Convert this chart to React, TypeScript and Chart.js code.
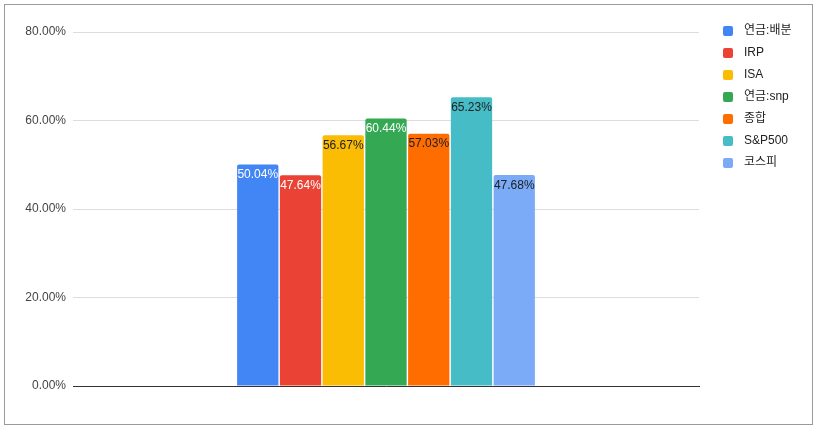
import React, { useEffect, useRef } from "react";
import { Chart, registerables } from "chart.js";

Chart.register(...registerables);

const categories = [""];
const seriesNames = ["연금:배분", "IRP", "ISA", "연금:snp", "종합", "S&P500", "코스피"];
const seriesValues = [50.04, 47.64, 56.67, 60.44, 57.03, 65.23, 47.68];
const yTickValues = [0, 20, 40, 60, 80];

const seriesColors = ["#4285F4", "#EA4335", "#FBBC04", "#34A853", "#FF6D01", "#46BDC6", "#7BAAF7"];
const labelColors = ["#ffffff", "#ffffff", "#202124", "#ffffff", "#202124", "#202124", "#202124"];

const FONT = "'Liberation Sans', Arial, 'Noto Sans CJK KR', sans-serif";

const valueLabelPlugin = {
  id: "valueLabels",
  afterDatasetsDraw(chart: any) {
    const ctx = chart.ctx;
    ctx.save();
    ctx.font = `12px ${FONT}`;
    ctx.textAlign = "center";
    ctx.textBaseline = "middle";
    chart.data.datasets.forEach((ds: any, i: number) => {
      const meta = chart.getDatasetMeta(i);
      const el = meta.data[0];
      if (!el) return;
      ctx.fillStyle = labelColors[i];
      ctx.fillText(`${Number(ds.data[0]).toFixed(2)}%`, el.x, el.y + 10.5);
    });
    ctx.restore();
  },
};

const sideLegendPlugin = {
  id: "sideLegend",
  afterDraw(chart: any) {
    const ctx = chart.ctx;
    const area = chart.chartArea;
    const boxX = area.right + 24;
    const startY = area.top - 1;
    const step = 22;
    ctx.save();
    ctx.font = `12px ${FONT}`;
    ctx.textAlign = "left";
    ctx.textBaseline = "middle";
    chart.data.datasets.forEach((ds: any, i: number) => {
      const cy = startY + i * step;
      ctx.fillStyle = ds.backgroundColor;
      ctx.beginPath();
      if ((ctx as any).roundRect) (ctx as any).roundRect(boxX, cy - 5, 10, 10, 2);
      else ctx.rect(boxX, cy - 5, 10, 10);
      ctx.fill();
      ctx.fillStyle = "#222222";
      ctx.fillText(ds.label, boxX + 21, cy);
    });
    ctx.restore();
  },
};

export default function App() {
  const ref = useRef<HTMLCanvasElement | null>(null);
  useEffect(() => {
    if (!ref.current) return;
    const chart = new Chart(ref.current, {
      type: "bar",
      data: {
        labels: categories,
        datasets: seriesNames.map((name, i) => ({
          label: name,
          data: [seriesValues[i]],
          backgroundColor: seriesColors[i],
          borderRadius: 2,
          borderSkipped: "bottom",
          categoryPercentage: 0.478,
          barPercentage: 0.966,
        })),
      },
      options: {
        responsive: false,
        animation: false,
        layout: { padding: { top: 32, bottom: 42, left: 0, right: 117 } },
        plugins: {
          legend: { display: false },
          tooltip: { enabled: false },
        },
        scales: {
          x: {
            display: true,
            ticks: { display: false },
            grid: { display: false, drawTicks: false },
            border: { display: true, color: "#333333", width: 1 },
            afterFit: (scale: any) => {
              scale.height = 0;
            },
          },
          y: {
            min: 0,
            max: 80,
            afterBuildTicks: (scale: any) => {
              scale.ticks = yTickValues.map((v) => ({ value: v }));
            },
            ticks: {
              padding: 7,
              color: "#444444",
              font: { family: FONT, size: 12 },
              callback: (v: any) => `${Number(v).toFixed(2)}%`,
            },
            grid: { color: "#dddddd", drawTicks: false },
            border: { display: false },
            afterFit: (scale: any) => {
              scale.width = 73;
            },
          },
        },
      },
      plugins: [valueLabelPlugin, sideLegendPlugin],
    });
    return () => chart.destroy();
  }, []);

  return (
    <div style={{ position: "absolute", left: 0, top: 0, width: 816, height: 428, background: "#ffffff" }}>
      <canvas ref={ref} width={816} height={428} style={{ position: "absolute", left: 0, top: 0, display: "block" }} />
      <div
        style={{
          position: "absolute",
          left: 4,
          top: 4,
          width: 809,
          height: 421,
          boxSizing: "border-box",
          border: "1px solid #9a9a9a",
          pointerEvents: "none",
        }}
      />
    </div>
  );
}
